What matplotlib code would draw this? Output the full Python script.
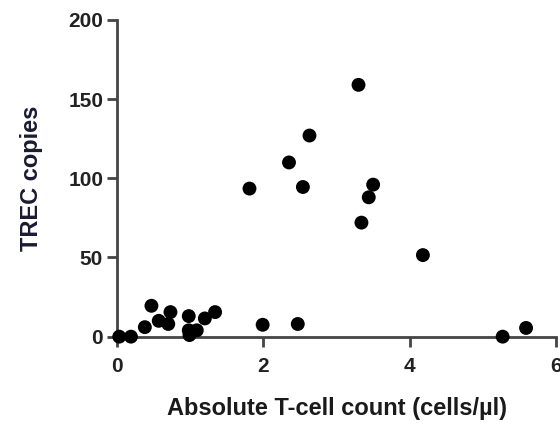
import matplotlib
matplotlib.use('Agg')
import matplotlib.pyplot as plt

# absolute T-cell count (cells/ul) vs TREC copies
t_cells = [0.03, 0.19, 0.38, 0.47, 0.57, 0.70, 0.73, 0.98, 0.99, 0.98, 1.09,
           1.20, 1.34, 1.99, 2.47, 5.27, 5.59,
           1.81, 2.35, 2.54, 2.63, 3.30, 3.34, 3.44, 3.50, 4.18]
trec = [0, 0, 6, 19.5, 10, 8, 15.5, 13, 1, 4, 4,
        11.5, 15.5, 7.5, 8, 0, 5.5,
        93.5, 110, 94.5, 127, 159, 72, 88, 96, 51.5]

plt.rcParams['font.family'] = ['Liberation Sans', 'DejaVu Sans']
plt.rcParams['font.weight'] = 'bold'

fig = plt.figure(figsize=(5.6, 4.24), dpi=100)
ax = fig.add_axes([0.209, 0.206, 0.784, 0.747])

ax.scatter(t_cells, trec, s=100, color='black', edgecolors='none', zorder=3, clip_on=False)

ax.set_xlim(0, 6)
ax.set_ylim(0, 200)
ax.set_xticks([0, 2, 4, 6])
ax.set_yticks([0, 50, 100, 150, 200])

for side in ['top', 'right']:
    ax.spines[side].set_visible(False)
for side in ['left', 'bottom']:
    ax.spines[side].set_linewidth(2)
    ax.spines[side].set_color('#444444')

ax.tick_params(direction='out', length=7, width=2, color='#444444',
               labelsize=15, labelcolor='#222222')
ax.tick_params(axis='x', pad=8)
ax.tick_params(axis='y', pad=3)
for lab in ax.get_xticklabels() + ax.get_yticklabels():
    lab.set_fontweight('bold')

ax.set_xlabel('Absolute T-cell count (cells/\u00b5l)', fontsize=17, fontweight='bold',
              color='#1a1a1a', labelpad=15)
ax.set_ylabel('TREC copies', fontsize=17, fontweight='bold', color='#1a1a30', labelpad=18)

fig.savefig('out.png', dpi=100)
